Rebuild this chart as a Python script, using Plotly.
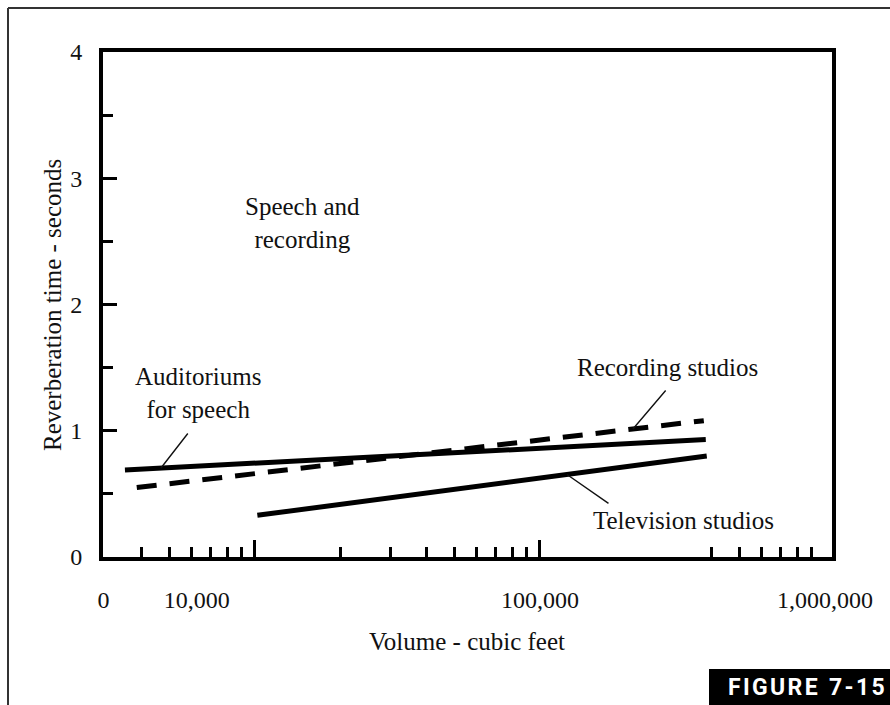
import numpy as np
import plotly.graph_objects as go

# ---- data ----
volume_auditoriums = [3500, 382000]
rt_auditoriums = [0.69, 0.93]

volume_recording = [3850, 376000]
rt_recording = [0.55, 1.08]

volume_television = [10200, 385000]
rt_television = [0.33, 0.80]

x_range_log = [3.467, 6.025]
x_label_vals = [2940, 6250, 100000, 1000000]
x_label_text = ["0", "10,000", "100,000", "1,000,000"]
x_major_ticks = [10000, 100000]
x_minor_ticks = [4000, 5000, 6000, 7000, 8000, 9000,
                 20000, 30000, 40000, 50000, 60000, 70000, 80000, 90000,
                 400000, 500000, 600000, 700000, 800000, 900000]

SERIF = "Liberation Serif, Times New Roman, serif"
INK = "#111111"

fig = go.Figure()
line_style = dict(color="black", width=5)
fig.add_trace(go.Scatter(x=volume_auditoriums, y=rt_auditoriums, mode="lines",
                         line=line_style, showlegend=False, hoverinfo="skip"))
fig.add_trace(go.Scatter(x=volume_recording, y=rt_recording, mode="lines",
                         line=dict(color="black", width=5, dash="20px,13px"),
                         showlegend=False, hoverinfo="skip"))
fig.add_trace(go.Scatter(x=volume_television, y=rt_television, mode="lines",
                         line=line_style, showlegend=False, hoverinfo="skip"))
# invisible helper trace so the tick-mark overlay axis is drawn
fig.add_trace(go.Scatter(x=volume_television, y=rt_television, mode="lines",
                         line=dict(width=0), opacity=0, xaxis="x2",
                         showlegend=False, hoverinfo="skip"))


def point_on(xs, ys, f):
    lx = np.log10(xs[0]) + f * (np.log10(xs[1]) - np.log10(xs[0]))
    return lx, ys[0] + f * (ys[1] - ys[0])


annotations = []
# leader lines
for xs, ys, f, ax, ay in [
    (volume_auditoriums, rt_auditoriums, 0.062, 28, -36),
    (volume_recording, rt_recording, 0.875, 34, -40),
    (volume_television, rt_television, 0.689, 43, 30),
]:
    lx, ly = point_on(xs, ys, f)
    annotations.append(dict(x=lx, y=ly, xref="x", yref="y", text="", showarrow=True,
                            arrowhead=0, arrowwidth=1.4, arrowcolor=INK, ax=ax, ay=ay))

# plot area in pixels: left 103, right 832, top 52, bottom 557
def px(x):
    return (x - 103) / 729.0


def py(y):
    return (557 - y) / 505.0


text_labels = [
    ("Speech and<br>recording", 302, 223),
    ("Auditoriums<br>for speech", 198, 393),
    ("Recording studios", 667, 367),
    ("Television studios", 683, 520),
    ("Volume - cubic feet", 467, 641),
]
for t, x, y in text_labels:
    annotations.append(dict(x=px(x), y=py(y), xref="paper", yref="paper", text=t,
                            showarrow=False, xanchor="center", yanchor="middle",
                            font=dict(family=SERIF, size=25, color=INK)))

annotations.append(dict(x=px(52), y=py(305), xref="paper", yref="paper",
                        text="Reverberation time - seconds", textangle=-90,
                        showarrow=False, xanchor="center", yanchor="middle",
                        font=dict(family=SERIF, size=25, color=INK)))

hs = "\u200a"
caption = hs.join("FIGURE") + "  " + hs.join("7-15")
annotations.append(dict(x=px(806), y=py(687), xref="paper", yref="paper",
                        text="<b>" + caption + "</b>", showarrow=False,
                        xanchor="center", yanchor="middle",
                        font=dict(family="Roboto, Liberation Sans, sans-serif",
                                  size=23, color="white")))

shapes = [
    # outer frame
    dict(type="line", xref="paper", yref="paper", x0=px(8), x1=px(890), y0=py(8), y1=py(8),
         line=dict(color="#333333", width=2)),
    dict(type="line", xref="paper", yref="paper", x0=px(8), x1=px(8), y0=py(8), y1=py(705),
         line=dict(color="#333333", width=2)),
    # figure caption box
    dict(type="rect", xref="paper", yref="paper", x0=px(709), x1=px(891), y0=py(669), y1=py(706),
         fillcolor="black", line=dict(width=0), layer="below"),
]

fig.update_layout(
    width=890, height=705,
    margin=dict(l=103, r=58, t=52, b=148),
    paper_bgcolor="white", plot_bgcolor="white",
    annotations=annotations, shapes=shapes,
    xaxis=dict(type="log", range=x_range_log, tickmode="array",
               tickvals=x_label_vals, ticktext=x_label_text, ticks="",
               ticklabelstandoff=18,
               tickfont=dict(family=SERIF, size=24, color=INK),
               showline=True, linewidth=4, linecolor="black", mirror=True,
               showgrid=False, zeroline=False),
    xaxis2=dict(type="log", range=x_range_log, overlaying="x", anchor="y", side="bottom",
                tickmode="array", tickvals=x_major_ticks, ticks="inside", ticklen=17,
                tickwidth=3, tickcolor="black", showticklabels=False,
                minor=dict(tickmode="array", tickvals=x_minor_ticks, ticks="inside",
                           ticklen=10, tickwidth=3, tickcolor="black"),
                showline=False, showgrid=False, zeroline=False),
    yaxis=dict(range=[0, 4], tickmode="linear", tick0=0, dtick=1, ticks="inside",
               ticklen=14, tickwidth=3, tickcolor="black",
               minor=dict(dtick=0.5, ticks="inside", ticklen=10, tickwidth=3,
                          tickcolor="black"),
               ticklabelstandoff=12,
               tickfont=dict(family=SERIF, size=24, color=INK),
               showline=True, linewidth=4, linecolor="black", mirror=True,
               showgrid=False, zeroline=False),
)

fig.write_html("out.html", config={"displayModeBar": False},
               post_script="document.body.style.margin='0';document.body.style.overflow='hidden';")
